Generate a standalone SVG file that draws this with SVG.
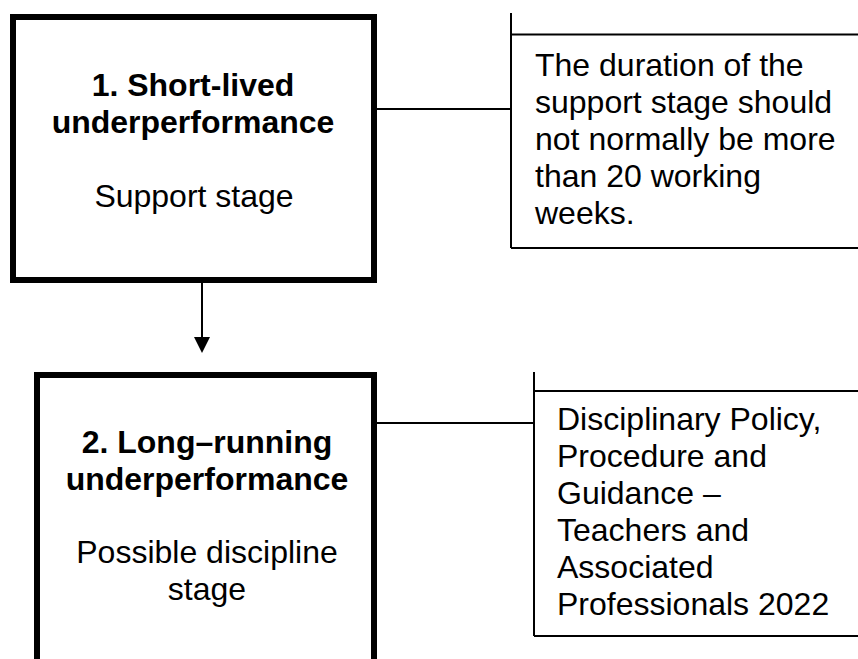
<svg xmlns="http://www.w3.org/2000/svg" width="858" height="659" viewBox="0 0 858 659">
<style>
.box{fill:#ffffff;stroke:#000000;stroke-width:6}
.ln{fill:none;stroke:#000000;stroke-width:2}
text{font-family:"Liberation Sans",Arial,sans-serif;font-size:32px;fill:#000000}
.b{font-weight:bold}
.c{text-anchor:middle}
</style>
<defs>
<marker id="ah" markerWidth="8" markerHeight="8" refX="8" refY="4" orient="auto" markerUnits="userSpaceOnUse" viewBox="0 0 8 8">
<path d="M0,0 L8,4 L0,8 Z" fill="#000000"/>
</marker>
</defs>
<rect width="858" height="659" fill="#ffffff"/>
<g id="connectors">
<line class="ln" x1="377" y1="109" x2="511" y2="109"/>
<line class="ln" x1="377" y1="423" x2="534" y2="423"/>
<path d="M202,283 L202,337" fill="none" stroke="#000" stroke-width="2"/>
<polygon points="194,337 210,337 202,353" fill="#000"/>
</g>
<g id="node1">
<rect class="box" x="13" y="17" width="361" height="263"/>
<text class="b c" x="193" y="96">1. Short-lived</text>
<text class="b c" x="193" y="133">underperformance</text>
<text class="c" x="194" y="207">Support stage</text>
</g>
<g id="note1">
<path class="ln" d="M511,13 L511,248 M511,34.5 L858,34.5 M511,248 L858,248"/>
<text x="535" y="76">The duration of the</text>
<text x="535" y="113">support stage should</text>
<text x="535" y="150">not normally be more</text>
<text x="535" y="187">than 20 working</text>
<text x="535" y="224">weeks.</text>
</g>
<g id="node2">
<rect class="box" x="37" y="375" width="337" height="400"/>
<text class="b c" x="207" y="453">2. Long–running</text>
<text class="b c" x="207" y="490">underperformance</text>
<text class="c" x="207" y="563">Possible discipline</text>
<text class="c" x="207" y="600">stage</text>
</g>
<g id="note2">
<path class="ln" d="M534,372 L534,636 M534,391 L858,391 M534,636 L858,636"/>
<text x="557" y="430">Disciplinary Policy,</text>
<text x="557" y="467">Procedure and</text>
<text x="557" y="504">Guidance –</text>
<text x="557" y="541">Teachers and</text>
<text x="557" y="578">Associated</text>
<text x="557" y="615">Professionals 2022</text>
</g>
</svg>
